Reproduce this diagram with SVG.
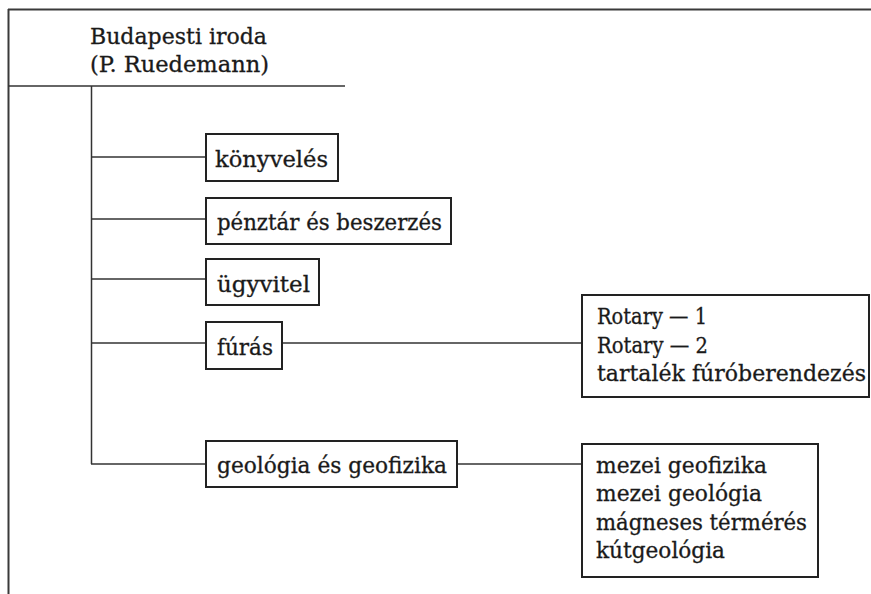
<svg xmlns="http://www.w3.org/2000/svg" width="871" height="594" viewBox="0 0 871 594">
<style>
  text { font-family: "DejaVu Serif", "Liberation Serif", serif; font-size: 22px; fill: #1a1a1a; stroke: #1a1a1a; stroke-width: 0.3; }
  .box { fill: #fff; stroke: #222; stroke-width: 2; }
  .ln { stroke: #333; stroke-width: 1.5; fill: none; }
  .frame { stroke: #3a3a3a; stroke-width: 2; fill: none; }
</style>
<rect width="871" height="594" fill="#fff"/>
<g id="frame">
  <line class="frame" x1="8" y1="9.5" x2="871" y2="9.5"/>
  <line class="frame" x1="8.5" y1="9" x2="8.5" y2="594" stroke="#666"/>
</g>
<g id="connectors">
  <line class="ln" x1="8" y1="86" x2="345" y2="86"/>
  <line class="ln" x1="91.5" y1="86" x2="91.5" y2="464"/>
  <line class="ln" x1="91" y1="157" x2="206" y2="157"/>
  <line class="ln" x1="91" y1="219" x2="206" y2="219"/>
  <line class="ln" x1="91" y1="279" x2="206" y2="279"/>
  <line class="ln" x1="91" y1="343" x2="206" y2="343"/>
  <line class="ln" x1="91" y1="464" x2="206" y2="464"/>
  <line class="ln" x1="282" y1="343" x2="582" y2="343"/>
  <line class="ln" x1="457" y1="464" x2="582" y2="464"/>
</g>
<g id="root">
  <text x="90" y="44" textLength="177" lengthAdjust="spacingAndGlyphs">Budapesti iroda</text>
  <text x="90" y="72" textLength="179" lengthAdjust="spacingAndGlyphs">(P. Ruedemann)</text>
</g>
<g id="konyveles">
  <rect class="box" x="206" y="134" width="132" height="47"/>
  <text x="215" y="167" textLength="113" lengthAdjust="spacingAndGlyphs">könyvelés</text>
</g>
<g id="penztar">
  <rect class="box" x="206" y="198" width="245" height="46"/>
  <text x="217" y="230" textLength="225" lengthAdjust="spacingAndGlyphs">pénztár és beszerzés</text>
</g>
<g id="ugyvitel">
  <rect class="box" x="206" y="259" width="113" height="46"/>
  <text x="217" y="292" textLength="93" lengthAdjust="spacingAndGlyphs">ügyvitel</text>
</g>
<g id="furas">
  <rect class="box" x="206" y="322" width="76" height="47"/>
  <text x="217" y="355" textLength="56" lengthAdjust="spacingAndGlyphs">fúrás</text>
</g>
<g id="geologia">
  <rect class="box" x="206" y="441" width="251" height="46"/>
  <text x="217" y="473" textLength="230" lengthAdjust="spacingAndGlyphs">geológia és geofizika</text>
</g>
<g id="furas-detail">
  <rect class="box" x="582" y="295" width="287" height="102"/>
  <text x="597" y="324" textLength="110" lengthAdjust="spacingAndGlyphs">Rotary — 1</text>
  <text x="597" y="353" textLength="111" lengthAdjust="spacingAndGlyphs">Rotary — 2</text>
  <text x="597" y="381" textLength="269" lengthAdjust="spacingAndGlyphs">tartalék fúróberendezés</text>
</g>
<g id="geologia-detail">
  <rect class="box" x="582" y="444" width="236" height="133"/>
  <text x="596" y="473" textLength="171" lengthAdjust="spacingAndGlyphs">mezei geofizika</text>
  <text x="596" y="501" textLength="166" lengthAdjust="spacingAndGlyphs">mezei geológia</text>
  <text x="596" y="530" textLength="211" lengthAdjust="spacingAndGlyphs">mágneses térmérés</text>
  <text x="596" y="558" textLength="129" lengthAdjust="spacingAndGlyphs">kútgeológia</text>
</g>
</svg>
